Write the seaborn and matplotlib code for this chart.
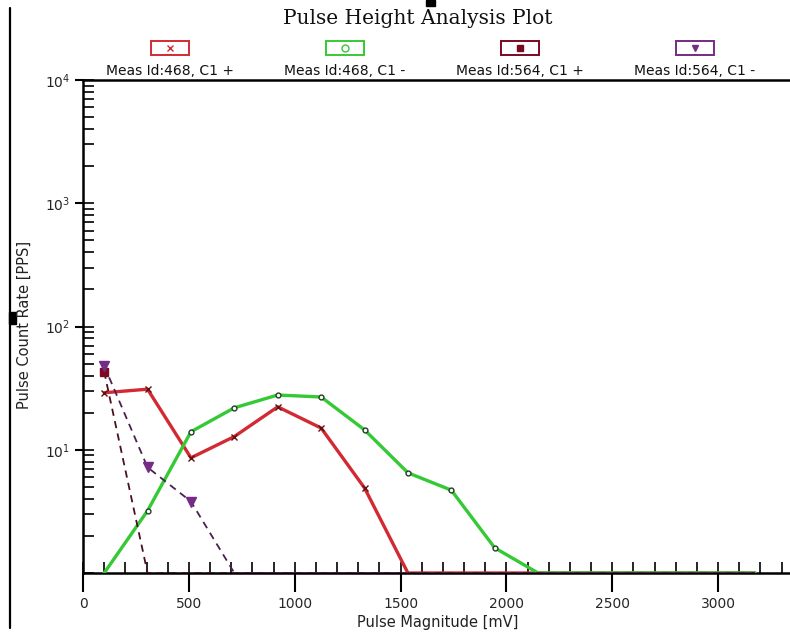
import numpy as np
import pandas as pd
import matplotlib
matplotlib.use("Agg")
import matplotlib.pyplot as plt
import seaborn as sns
from matplotlib.patches import Rectangle
from matplotlib.lines import Line2D
from matplotlib.ticker import MultipleLocator, FixedLocator, LogLocator, NullFormatter

# ---- data ----
magnitude_mv = [100, 305, 510, 715, 920, 1125, 1330, 1535, 1740, 1945, 2150, 2355, 2560, 2765, 2970, 3175]
meas468_pos = [29, 31, 8.6, 12.8, 22.3, 15, 4.9, 1, 1, 1, 1, 1, 1, 1, 1, 1]
meas468_neg = [1, 3.2, 14, 21.9, 27.8, 26.8, 14.5, 6.5, 4.7, 1.6, 1, 1, 1, 1, 1, 1]
meas564_pos = [43, 1, 1, 1, 1, 1, 1, 1, 1, 1, 1, 1, 1, 1, 1, 1]
meas564_neg = [48, 7.2, 3.8, 1, 1, 1, 1, 1, 1, 1, 1, 1, 1, 1, 1, 1]
series_labels = ["Meas Id:468, C1 +", "Meas Id:468, C1 -", "Meas Id:564, C1 +", "Meas Id:564, C1 -"]
x_ticks = [0, 500, 1000, 1500, 2000, 2500, 3000]
y_ticks = [10, 100, 1000, 10000]

W, H = 790, 633
sns.set_style("white")
plt.rcParams['font.family'] = ['DejaVu Sans']

fig = plt.figure(figsize=(W / 100, H / 100), dpi=100)
ax = fig.add_axes([83 / W, 1 - 573 / H, (W - 83) / W, (573 - 80) / H])

df = pd.DataFrame({"x": magnitude_mv, "a": meas468_pos, "b": meas468_neg,
                   "c": meas564_pos, "d": meas564_neg})

colors = ["#d22a32", "#35c935", "#7a0a22", "#752c86"]
styles = [
    dict(y="a", color=colors[0], lw=2.4, ls="-", marker="x", ms=4, mec="#601010", z=3),
    dict(y="b", color=colors[1], lw=2.4, ls="-", marker="o", ms=3.5, mec="#204020", z=4),
    dict(y="c", color="#4a1020", lw=1.3, ls=(0, (4, 3)), marker="s", ms=6, mec=colors[2], z=5),
    dict(y="d", color="#4a2050", lw=1.3, ls=(0, (4, 3)), marker="v", ms=7, mec=colors[3], z=5),
]
for i, s in enumerate(styles):
    sns.lineplot(data=df, x="x", y=s["y"], ax=ax, color=s["color"], linewidth=s["lw"],
                 linestyle=s["ls"], zorder=s["z"], legend=False)
    mfc = "white" if s["marker"] == "o" else (colors[i] if s["marker"] in ("s", "v") else colors[i])
    ax.plot(df["x"][df[s["y"]] > 1.05], df[s["y"]][df[s["y"]] > 1.05], linestyle="none",
            marker=s["marker"], ms=s["ms"], mfc=mfc, mec=s["mec"], mew=1.0, zorder=s["z"] + 1)

ax.set_yscale("log")
ax.set_xlim(0, (W - 83) / 0.21167)
ax.set_ylim(1, 1e4)
ax.set_xlabel("")
ax.set_ylabel("")

# ticks
ax.xaxis.remove_overlapping_locs = False
ax.yaxis.remove_overlapping_locs = False
ax.xaxis.set_major_locator(FixedLocator(x_ticks))
ax.xaxis.set_minor_locator(MultipleLocator(100))
ax.set_xticklabels([str(v) for v in x_ticks])
ax.yaxis.set_major_locator(FixedLocator(y_ticks))
ax.set_yticklabels([r"$10^{%d}$" % int(np.log10(v)) for v in y_ticks])
ax.yaxis.set_minor_locator(LogLocator(base=10, subs=np.arange(1, 10), numticks=20))
ax.yaxis.set_minor_formatter(NullFormatter())
ax.tick_params(axis="x", which="major", direction="out", length=14, width=1.5, color="black",
               labelsize=10, pad=3, bottom=True)
ax.tick_params(axis="x", which="minor", direction="in", length=8, width=1.2, color="black", bottom=True)
ax.tick_params(axis="y", which="major", direction="out", length=6, width=1.5, color="black",
               labelsize=10, pad=3, left=True)
ax.tick_params(axis="y", which="minor", direction="in", length=8, width=1.2, color="black", left=True)

for side in ["left", "bottom", "top"]:
    ax.spines[side].set_visible(True)
    ax.spines[side].set_color("black")
    ax.spines[side].set_linewidth(1.8)
ax.spines["right"].set_visible(False)
ax.grid(False)

# axis titles
fig.text(24 / W, 1 - 325 / H, "Pulse Count Rate [PPS]", rotation=90, ha="center", va="center",
         fontsize=10.5, color="#222222")
fig.text(438 / W, 1 - 623 / H, "Pulse Magnitude [mV]", ha="center", va="center",
         fontsize=10.5, color="#222222")

# title
fig.text(418 / W, 1 - 19 / H, "Pulse Height Analysis Plot", ha="center", va="center",
         fontsize=14.5, family="DejaVu Serif", color="#111111")

# custom legend row
leg_x = [170, 345, 520, 695]
leg_markers = [("x", "white"), ("o", "white"), ("s", colors[2]), ("v", colors[3])]
for cx, lab, col, (mk, fc) in zip(leg_x, series_labels, colors, leg_markers):
    bw, bh = 38, 13
    fig.add_artist(Rectangle(((cx - bw / 2) / W, 1 - (48 + bh / 2) / H), bw / W, bh / H,
                             transform=fig.transFigure, fill=False, edgecolor=col, linewidth=1.4))
    fig.add_artist(Line2D([cx / W], [1 - 48 / H], transform=fig.transFigure, marker=mk,
                          markersize=5, markerfacecolor=col if mk in ("s", "v") else "none",
                          markeredgecolor=col, linestyle="none"))
    fig.text(cx / W, 1 - 71 / H, lab, ha="center", va="center", fontsize=10, color="#111111")

# outer frame line and artifacts
fig.add_artist(Line2D([10 / W, 10 / W], [1 - 8 / H, 1 - 628 / H], transform=fig.transFigure,
                      color="black", linewidth=1.6))
fig.add_artist(Rectangle((426 / W, 1 - 6 / H), 9 / W, 6 / H, transform=fig.transFigure,
                         color="black"))
fig.add_artist(Rectangle((9 / W, 1 - 324 / H), 7 / W, 12 / H, transform=fig.transFigure,
                         color="black"))

fig.savefig("out.png", dpi=100)
